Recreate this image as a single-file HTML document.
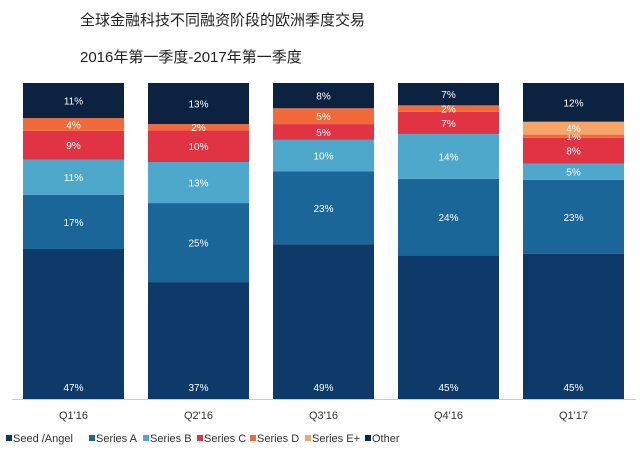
<!DOCTYPE html>
<html><head><meta charset="utf-8"><style>
body{margin:0;background:#fff;width:640px;height:452px;overflow:hidden;font-family:"Liberation Sans","Noto Sans CJK SC",sans-serif}
</style></head><body>
<svg width="640" height="452" xmlns="http://www.w3.org/2000/svg">
<text x="80" y="25" font-size="15" fill="#222" font-family="Liberation Sans, Noto Sans CJK SC, sans-serif">全球金融科技不同融资阶段的欧洲季度交易</text>
<text x="80" y="62" font-size="15" fill="#222" font-family="Liberation Sans, Noto Sans CJK SC, sans-serif">2016年第一季度-2017年第一季度</text>
<g id="bars"></g>
<line x1="12" y1="399.5" x2="636" y2="399.5" stroke="#ccc"/>
<g id="xl"></g><g id="lg"></g>
</svg>
<script>
const categories=["Q1'16","Q2'16","Q3'16","Q4'16","Q1'17"];
const seriesNames=["Seed /Angel","Series A","Series B","Series C","Series D","Series E+","Other"];
const seed=[47,37,49,45,45];
const seriesA=[17,25,23,24,23];
const seriesB=[11,13,10,14,5];
const seriesC=[9,10,5,7,8];
const seriesD=[4,2,5,2,1];
const seriesE=[0,0,0,0,4];
const other=[11,13,8,7,12];
const colors=["#0d3a68","#1b6698","#4ea8cc","#e03444","#f36a3a","#f5a56a","#0b2240"];
const NS="http://www.w3.org/2000/svg";
const all=[seed,seriesA,seriesB,seriesC,seriesD,seriesE,other];
const yTop=83,yBot=399,bw=101;
function xPos(i){return 23+i*125;}
const bars=document.getElementById('bars');
categories.forEach((c,i)=>{
  let sum=all.reduce((a,s)=>a+s[i],0);
  let y=yBot;
  all.forEach((s,k)=>{
    const v=s[i]; if(!v) return;
    const h=v/sum*(yBot-yTop);
    const r=document.createElementNS(NS,'rect');
    r.setAttribute('x',xPos(i));r.setAttribute('y',y-h);r.setAttribute('width',bw);r.setAttribute('height',h);r.setAttribute('fill',colors[k]);
    
    
    bars.appendChild(r);
    const t=document.createElementNS(NS,'text');
    t.setAttribute('x',xPos(i)+bw/2);
    t.setAttribute('y',k==0?yBot-8:y-h/2+4);
    t.setAttribute('text-anchor','middle');t.setAttribute('font-size','10');t.setAttribute('fill','#fff');
    t.textContent=v+'%';
    
    
    bars.appendChild(t);
    y-=h;
  });
  const l=document.createElementNS(NS,'text');
  l.setAttribute('x',xPos(i)+bw/2);l.setAttribute('y',419);l.setAttribute('text-anchor','middle');l.setAttribute('font-size','11');l.setAttribute('fill','#333');
  l.textContent=c;
  
  
  document.getElementById('xl').appendChild(l);
});
const lx=[6,89,143,197,250,305,365];
const lg=document.getElementById('lg');
seriesNames.forEach((n,k)=>{
  const g=document.createElementNS(NS,'g');
  
  
  const r=document.createElementNS(NS,'rect');
  r.setAttribute('x',lx[k]);r.setAttribute('y',435);r.setAttribute('width',6);r.setAttribute('height',6);r.setAttribute('fill',colors[k]);
  g.appendChild(r);
  const t=document.createElementNS(NS,'text');
  t.setAttribute('x',lx[k]+7);t.setAttribute('y',442);t.setAttribute('font-size','11');t.setAttribute('fill','#333');
  t.textContent=n;g.appendChild(t);lg.appendChild(g);
});
</script>
</body></html>
